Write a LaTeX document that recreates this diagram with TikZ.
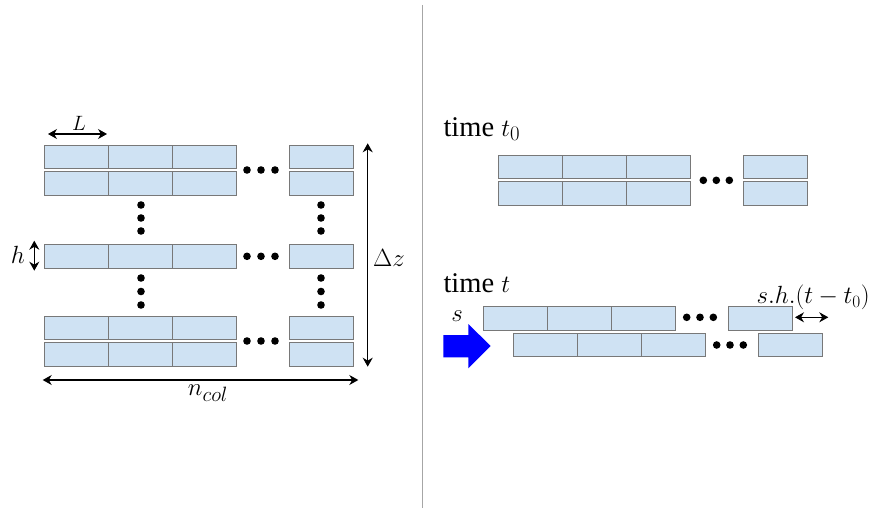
\documentclass[tikz,border=0pt]{standalone}
\usepackage{fontspec}
\setmainfont{Liberation Serif}
\usetikzlibrary{arrows.meta}
\definecolor{brickfill}{RGB}{207,226,243}
\definecolor{brickline}{RGB}{120,120,120}

\tikzset{
  brick/.style={draw=brickline, fill=brickfill, line width=0.9pt, inner sep=0pt,
    minimum width=64pt, minimum height=23.8pt},
  dim/.style={line width=1.1pt, {Stealth[length=9pt,width=10pt]}-{Stealth[length=9pt,width=10pt]}},
  dot/.style={fill=black}
}

\begin{document}
\begin{tikzpicture}[x=1pt, y=-1pt]
    \useasboundingbox (0,0) rectangle (875,508);

    % divider
    \draw[line width=1.3pt, gray!70] (422.7,5) -- (422.7,508);

    % left stack
    \foreach \r/\y in {a/157, b/183.4, c/256.3, d/328, e/354.2}{
        \foreach \c/\x in {1/76.3, 2/140.3, 3/204.5, 4/321}{
            \node[brick] (\r\c) at (\x,\y) {};
        }
    }

    % dots
    \foreach \y in {170, 256.3, 341}{
        \foreach \x in {247, 261, 275}
            \fill[dot] (\x,\y) circle (3.8);
    }
    \foreach \x in {141, 321}{
        \foreach \y in {205, 218, 231, 278, 291.5, 305}
            \fill[dot] (\x,\y) circle (3.8);
    }

    % labels
    \node[font=\fontsize{20}{22}\selectfont] at (79,123) (lL) {$L$};
    \node[font=\fontsize{28}{30}\selectfont] at (18,255) (lh) {$h$};
    \node[font=\fontsize{25}{28}\selectfont] at (389,258) (ldz) {$\Delta z$};
    \node[font=\fontsize{28}{30}\selectfont] at (208,393) (lncol) {$n_{col}$};

    % dimension arrows
    \coordinate (L1) at (48,134);
    \coordinate (L2) at (107,134);
    \coordinate (h1) at (34.3,240.7);
    \coordinate (h2) at (34.3,270.7);
    \coordinate (dz1) at (367.7,143.3);
    \coordinate (dz2) at (367.7,366.7);
    \coordinate (n1) at (42.7,380);
    \coordinate (n2) at (358.3,380);
    \draw[dim] (L1) -- (L2); % brick length
    \draw[dim] (h1) -- (h2); % brick height
    \draw[dim] (dz1) -- (dz2); % stack height
    \draw[dim] (n1) -- (n2); % columns

    % right side, time t0
    \node[font=\fontsize{28.5}{30}\selectfont, anchor=base west] at (440,136) (tz) {time $t_0$};
    \foreach \r/\y in {f/167, g/193.2}{
        \foreach \c/\x in {1/530.3, 2/594.3, 3/658.3, 4/775.2}{
            \node[brick] (\r\c) at (\x,\y) {};
        }
    }
    \foreach \x in {703.3, 716.3, 729.3}
        \fill[dot] (\x,180.3) circle (3.8);

    % right side, time t
    \node[font=\fontsize{28.5}{30}\selectfont, anchor=base west] at (440,292.7) (tt) {time $t$};
    \foreach \c/\x in {1/515.3, 2/579.3, 3/643.3, 4/760}{
        \node[brick] (p\c) at (\x,318.3) {};
    }
    \foreach \c/\x in {1/545.3, 2/609.3, 3/673.3, 4/790}{
        \node[brick] (q\c) at (\x,345) {};
    }
    \foreach \x in {686.7, 700, 713.3}
        \fill[dot] (\x,317.3) circle (3.8);
    \foreach \x in {716.7, 730, 743.3}
        \fill[dot] (\x,345) circle (3.8);

    % shear arrow
    \fill[blue] (443.3,335) -- (468.3,335) -- (468.3,324) -- (490.7,346)
        -- (468.3,368.3) -- (468.3,357.3) -- (443.3,357.3) -- cycle;
    \node[font=\fontsize{28}{30}\selectfont] at (457,316) (ls) {$s$};

    % offset
    \node[font=\fontsize{25}{27}\selectfont, anchor=base west] at (753,303.3) (lsh) {$s.h.(t-t_0)$};
    \coordinate (o1) at (795,317.3);
    \coordinate (o2) at (828.3,317.3);
    \draw[dim] (o1) -- (o2); % shift
\end{tikzpicture}
\end{document}
